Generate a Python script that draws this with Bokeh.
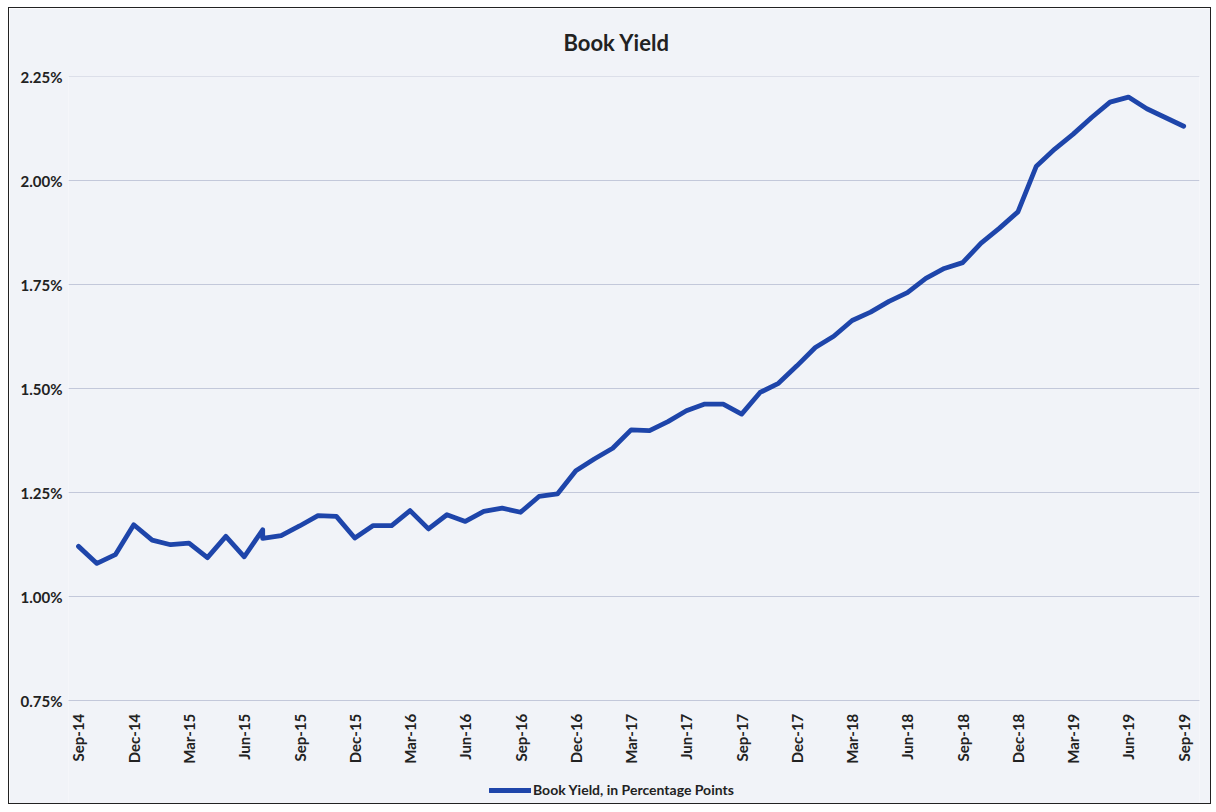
from bokeh.plotting import figure
from bokeh.models import FixedTicker, PrintfTickFormatter, Range1d, Legend, LegendItem, ColumnDataSource
from bokeh.embed import file_html
from bokeh.resources import INLINE
import math

# ---- data -------------------------------------------------------------
month_names = ["Jan", "Feb", "Mar", "Apr", "May", "Jun",
               "Jul", "Aug", "Sep", "Oct", "Nov", "Dec"]
months = []
for k in range(61):  # Sep-14 .. Sep-19, monthly
    m = (8 + k) % 12
    y = 14 + (8 + k) // 12
    months.append(f"{month_names[m]}-{y:02d}")

# Book yield, in percentage points
book_yield = [
    1.121, 1.080, 1.101, 1.173, 1.136, 1.125, 1.129, 1.094, 1.145, 1.096,   # Sep-14 .. Jun-15
    1.161, 1.147, 1.170, 1.195, 1.193, 1.141, 1.171, 1.171, 1.207, 1.163,   # Jul-15 .. Apr-16
    1.197, 1.181, 1.205, 1.213, 1.203, 1.241, 1.247, 1.303, 1.331, 1.357,   # May-16 .. Feb-17
    1.401, 1.399, 1.421, 1.447, 1.463, 1.463, 1.439, 1.491, 1.513, 1.555,   # Mar-17 .. Dec-17
    1.599, 1.626, 1.664, 1.684, 1.710, 1.731, 1.765, 1.789, 1.803, 1.850,   # Jan-18 .. Oct-18
    1.886, 1.925, 2.035, 2.076, 2.112, 2.152, 2.189, 2.201, 2.173, 2.152,   # Nov-18 .. Aug-19
    2.131,                                                                  # Sep-19
]
# Jul-15 shows a second (restated) reading right after the first one
jul15_index = 10
jul15_restated = 1.140

tick_labels = ["Sep-14", "Dec-14", "Mar-15", "Jun-15", "Sep-15", "Dec-15", "Mar-16",
               "Jun-16", "Sep-16", "Dec-16", "Mar-17", "Jun-17", "Sep-17", "Dec-17",
               "Mar-18", "Jun-18", "Sep-18", "Dec-18", "Mar-19", "Jun-19", "Sep-19"]
y_ticks = [0.75, 1.00, 1.25, 1.50, 1.75, 2.00, 2.25]
axis_floor = 0.75

# ---- build series -----------------------------------------------------
idx = list(range(len(book_yield)))
xs = idx[:jul15_index + 1] + [jul15_index] + idx[jul15_index + 1:]
ys = book_yield[:jul15_index + 1] + [jul15_restated] + book_yield[jul15_index + 1:]
src = ColumnDataSource(dict(x=xs, y=ys))

tick_pos = [months.index(t) for t in tick_labels]

# ---- figure -----------------------------------------------------------
BG = "#f1f3f8"
FONT = "Lato"
W, H = 1203, 797
TOP = 68
LEFT = 59
PX_PER_MONTH = 18.42
x_start = -10 / PX_PER_MONTH
x_end = x_start + (W - LEFT - 13) / PX_PER_MONTH
p = figure(width=W, height=H, output_backend="svg", toolbar_location=None,
           x_range=Range1d(x_start, x_end),
           y_range=Range1d(2.2505 - (H - TOP) / 416.0, 2.2505),
           min_border_left=LEFT, min_border_right=13, min_border_top=TOP, min_border_bottom=0)
p.styles = {"border": "1px solid #222222", "margin-left": "8px", "margin-top": "7px"}
p.background_fill_color = BG
p.border_fill_color = BG
p.outline_line_color = None

p.title.text = "Book Yield"
p.title.align = "left"
p.title.offset = 495
p.title.vertical_align = "top"
p.title.text_font = FONT
p.title.text_font_size = "22px"
p.title.text_font_style = "bold"
p.title.text_color = "#222222"
p.title.standoff = 38

r = p.line("x", "y", source=src, line_color="#1e45aa", line_width=4.8,
           line_join="round", line_cap="round")

# y axis
p.yaxis.ticker = FixedTicker(ticks=y_ticks)
p.yaxis.formatter = PrintfTickFormatter(format="%.2f%%")
p.yaxis.axis_line_color = None
p.yaxis.major_tick_line_color = None
p.yaxis.minor_tick_line_color = None
p.yaxis.major_label_text_font = FONT
p.yaxis.major_label_text_font_size = "15px"
p.yaxis.major_label_text_font_style = "bold"
p.yaxis.major_label_text_color = "#222222"
p.yaxis.major_label_standoff = 0

# x axis, sitting on the 0.75% line
p.xaxis.fixed_location = axis_floor
p.xaxis.ticker = FixedTicker(ticks=tick_pos)
p.xaxis.major_label_overrides = {i: months[i] for i in tick_pos}
p.xaxis.major_label_orientation = math.pi / 2
p.xaxis.axis_line_color = "#c3c8da"
p.xaxis.major_tick_line_color = None
p.xaxis.minor_tick_line_color = None
p.xaxis.major_label_text_font = FONT
p.xaxis.major_label_text_font_size = "15px"
p.xaxis.major_label_text_font_style = "bold"
p.xaxis.major_label_text_color = "#222222"
p.xaxis.major_label_standoff = 7

p.xgrid.grid_line_color = None
p.ygrid.ticker = FixedTicker(ticks=y_ticks)
p.ygrid.grid_line_color = "#c3c8da"
p.ygrid.grid_line_width = 1

legend = Legend(items=[LegendItem(label="Book Yield, in Percentage Points", renderers=[r])],
                location=(421, 7), orientation="horizontal",
                background_fill_alpha=0, border_line_color=None,
                glyph_width=42, glyph_height=14, label_standoff=2,
                label_text_font=FONT, label_text_font_size="14px",
                label_text_font_style="bold", label_text_color="#222222",
                margin=0, padding=4)
p.add_layout(legend, "center")

open("out.html", "w").write(file_html(p, INLINE))
